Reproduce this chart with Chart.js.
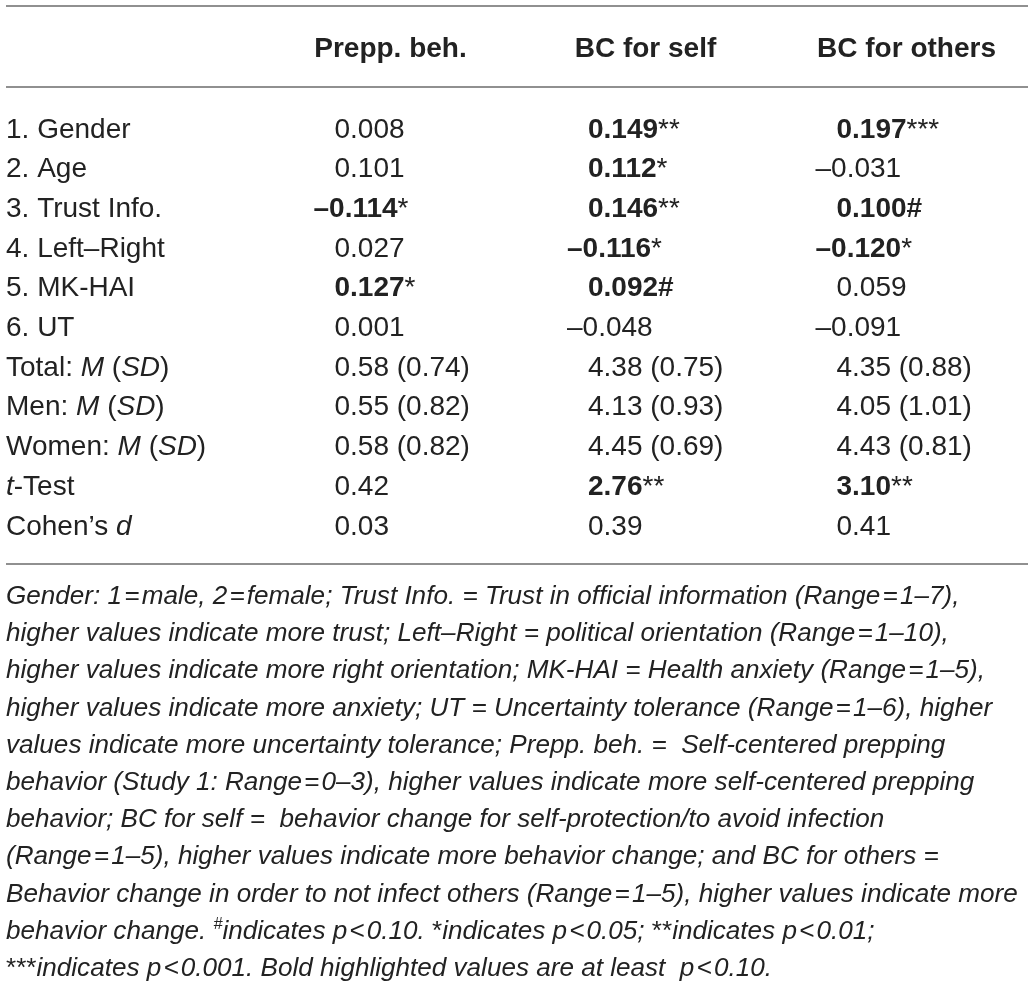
<!DOCTYPE html>
<html><head><meta charset="utf-8">
<script src="https://cdn.jsdelivr.net/npm/chart.js@4"></script>
<style>html,body{margin:0;padding:0;background:#fff}#wrap{width:1035px;height:992px}</style>
</head><body><div id="wrap"><canvas id="c" width="1035" height="992"></canvas></div>
<script>
// ---- data ----
const columns = ['Prepp. beh.', 'BC for self', 'BC for others'];
const rowLabels = ['1. Gender', '2. Age', '3. Trust Info.', '4. Left–Right', '5. MK-HAI', '6. UT',
  'Total: <i>M</i> (<i>SD</i>)', 'Men: <i>M</i> (<i>SD</i>)', 'Women: <i>M</i> (<i>SD</i>)', '<i>t</i>-Test', 'Cohen’s <i>d</i>'];
const prepCorr   = [0.008, 0.101, -0.114, 0.027, 0.127, 0.001];
const selfCorr   = [0.149, 0.112, 0.146, -0.116, 0.092, -0.048];
const othersCorr = [0.197, -0.031, 0.100, -0.120, 0.059, -0.091];
const prepSig   = ['', '', '*', '', '*', ''];
const selfSig   = ['**', '*', '**', '*', '#', ''];
const othersSig = ['***', '', '#', '*', '', ''];
const totalM = [0.58, 4.38, 4.35];  const totalSD = [0.74, 0.75, 0.88];
const menM   = [0.55, 4.13, 4.05];  const menSD   = [0.82, 0.93, 1.01];
const womenM = [0.58, 4.45, 4.43];  const womenSD = [0.82, 0.69, 0.81];
const tTest  = [0.42, 2.76, 3.10];  const tSig    = ['', '**', '**'];
const cohenD = [0.03, 0.39, 0.41];
const H = '\u200A';
const footnoteLines = [
  'Gender: 1' + H + '=' + H + 'male, 2' + H + '=' + H + 'female; Trust Info. = Trust in official information (Range' + H + '=' + H + '1–7),',
  'higher values indicate more trust; Left–Right = political orientation (Range' + H + '=' + H + '1–10),',
  'higher values indicate more right orientation; MK-HAI = Health anxiety (Range' + H + '=' + H + '1–5),',
  'higher values indicate more anxiety; UT = Uncertainty tolerance (Range' + H + '=' + H + '1–6), higher',
  'values indicate more uncertainty tolerance; Prepp. beh. =  Self-centered prepping',
  'behavior (Study 1: Range' + H + '=' + H + '0–3), higher values indicate more self-centered prepping',
  'behavior; BC for self =  behavior change for self-protection/to avoid infection',
  '(Range' + H + '=' + H + '1–5), higher values indicate more behavior change; and BC for others =',
  'Behavior change in order to not infect others (Range' + H + '=' + H + '1–5), higher values indicate more',
  'behavior change. <sup>#</sup>indicates p' + H + '<' + H + '0.10. <n>*</n>indicates p' + H + '<' + H + '0.05; <n>**</n>indicates p' + H + '<' + H + '0.01;',
  '<n>***</n>indicates p' + H + '<' + H + '0.001. Bold highlighted values are at least  p' + H + '<' + H + '0.10.'
];

// ---- helpers ----
const corrs = [prepCorr, selfCorr, othersCorr];
const sigs = [prepSig, selfSig, othersSig];
function fmtCorr(v) { return (v < 0 ? '–' : '') + Math.abs(v).toFixed(3); }
function cellMarkup(c, r) {
  if (r < 6) {
    const v = corrs[c][r], s = sigs[c][r];
    const num = fmtCorr(v);
    if (!s) return { str: num, neg: v < 0 };
    if (s === '#') return { str: '<b>' + num + '#</b>', neg: v < 0 };
    return { str: '<b>' + num + '</b>' + s, neg: v < 0 };
  }
  if (r === 6) return { str: totalM[c].toFixed(2) + ' (' + totalSD[c].toFixed(2) + ')', neg: false };
  if (r === 7) return { str: menM[c].toFixed(2) + ' (' + menSD[c].toFixed(2) + ')', neg: false };
  if (r === 8) return { str: womenM[c].toFixed(2) + ' (' + womenSD[c].toFixed(2) + ')', neg: false };
  if (r === 9) { const n = tTest[c].toFixed(2); return { str: tSig[c] ? '<b>' + n + '</b>' + tSig[c] : n, neg: false }; }
  return { str: cohenD[c].toFixed(2), neg: false };
}
function parse(str, base) {
  const segs = []; const re = /<(\/?)(i|b|sup|n)>/g;
  let st = Object.assign({ i: false, b: false, sup: false, n: false }, base || {});
  let last = 0, m;
  while ((m = re.exec(str))) {
    if (m.index > last) segs.push(Object.assign({ t: str.slice(last, m.index) }, st));
    st = Object.assign({}, st, { [m[2]]: m[1] !== '/' });
    last = re.lastIndex;
  }
  if (last < str.length) segs.push(Object.assign({ t: str.slice(last) }, st));
  return segs;
}
const FAMILY = '"Liberation Sans", Arial, sans-serif';
function fontOf(seg, size) {
  const s = seg.sup ? size * 0.62 : size;
  return (seg.i && !seg.n ? 'italic ' : '') + (seg.b ? 'bold ' : '') + s + 'px ' + FAMILY;
}
function drawRich(ctx, str, x, y, size, base) {
  const segs = parse(str, base);
  for (const seg of segs) {
    ctx.font = fontOf(seg, size);
    ctx.fillText(seg.t, x, seg.sup ? y - size * 0.38 : y);
    x += ctx.measureText(seg.t).width;
  }
  return x;
}
function richWidth(ctx, str, size, base) {
  let w = 0;
  for (const seg of parse(str, base)) { ctx.font = fontOf(seg, size); w += ctx.measureText(seg.t).width; }
  return w;
}

// ---- table plugin ----
const tablePlugin = {
  id: 'tableText',
  afterDraw(chart, args, o) {
    const ctx = chart.ctx, xs = chart.scales.x, ys = chart.scales.y;
    ctx.save();
    ctx.textBaseline = 'alphabetic';
    ctx.textAlign = 'left';
    // rules
    ctx.strokeStyle = o.ruleColor; ctx.lineWidth = o.ruleWidth;
    for (const ry of o.rules) {
      ctx.beginPath(); ctx.moveTo(o.left, ry); ctx.lineTo(o.right, ry); ctx.stroke();
    }
    ctx.fillStyle = o.color;
    // headers
    columns.forEach((col, c) => {
      ctx.font = 'bold ' + o.headerSize + 'px ' + FAMILY;
      const w = ctx.measureText(col).width;
      ctx.fillText(col, xs.getPixelForValue(c) + o.headerOffsets[c] - w / 2, o.headerBaseline);
    });
    // row labels
    rowLabels.forEach((lab, r) => {
      drawRich(ctx, lab, o.left, ys.getPixelForValue(r) + o.baselineShift, o.bodySize);
    });
    // cells from dataset points
    chart.data.datasets.forEach((ds, c) => {
      const meta = chart.getDatasetMeta(c);
      meta.data.forEach((pt, r) => {
        const cell = cellMarkup(c, r);
        const x = pt.x + o.cellOffsets[c] - (cell.neg ? o.negShift : 0);
        drawRich(ctx, cell.str, x, pt.y + o.baselineShift, o.bodySize);
      });
    });
    // footnote
    const fw = richWidth(ctx, footnoteLines[0], 100, { i: true });
    const fsize = Math.round(o.footFirstWidth / fw * 100 * 10) / 10;
    footnoteLines.forEach((ln, i) => {
      drawRich(ctx, ln, o.left, o.footBaseline + i * o.footStep, fsize, { i: true });
    });
    ctx.restore();
  }
};

new Chart(document.getElementById('c'), {
  type: 'scatter',
  data: {
    datasets: columns.map((col, c) => ({
      label: col,
      data: rowLabels.map(r => ({ x: col, y: r })),
      pointRadius: 0, pointHoverRadius: 0
    }))
  },
  options: {
    responsive: false,
    animation: false,
    devicePixelRatio: 1,
    layout: { padding: { left: 209, right: 73, top: 107.65, bottom: 447.65 } },
    scales: {
      x: { type: 'category', labels: columns, offset: true, display: false },
      y: { type: 'category', labels: rowLabels, offset: true, display: false }
    },
    plugins: {
      legend: { display: false },
      tooltip: { enabled: false },
      tableText: {
        color: '#222', ruleColor: '#909090', ruleWidth: 2,
        rules: [6, 87, 564], left: 6, right: 1028,
        headerSize: 28, headerBaseline: 57, headerOffsets: [56, 60, 70],
        bodySize: 28, baselineShift: 10, cellOffsets: [0, 2.5, 0], negShift: 21,
        footBaseline: 604, footStep: 37.2, footFirstWidth: 952
      }
    }
  },
  plugins: [tablePlugin]
});
</script>
</body></html>
